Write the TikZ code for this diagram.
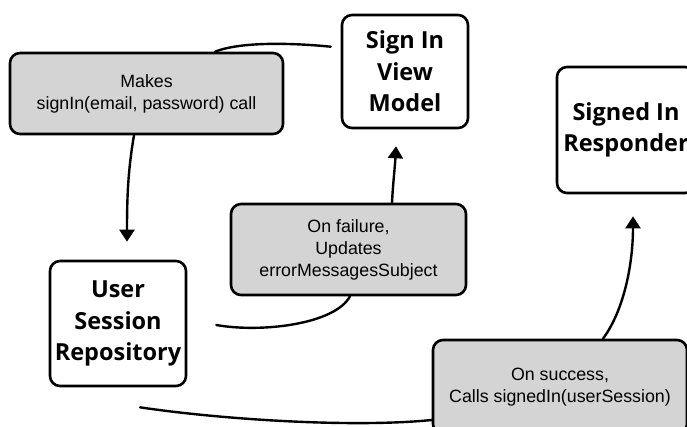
\documentclass[tikz,border=0pt]{standalone}
\usepackage{fontspec}
\setmainfont{Liberation Sans}
\newfontfamily\labelfont{Open Sans}
\usetikzlibrary{arrows.meta}
\definecolor{boxgray}{HTML}{D4D4D4}
\begin{document}
\begin{tikzpicture}[x=1pt,y=-1pt,
 box/.style={draw=black, line width=2.6pt, rounded corners=10pt, align=center, inner sep=0pt},
 entity/.style={box, fill=white, font=\labelfont\bfseries\fontsize{23.5}{31.5}\selectfont},
 action/.style={box, fill=boxgray, font=\fontsize{17.8}{22}\selectfont},
 conn/.style={line width=2.4pt, line cap=round},
 tip/.style={-{Triangle[width=15pt,length=12pt]}}
]
\useasboundingbox (0,0) rectangle (687,426);
\clip (0,0) rectangle (687,426);
\node[action, minimum width=273pt, minimum height=81pt] (mk) at (146.5,93.5) {Makes\\signIn(email, password) call};
\node[entity, minimum width=126pt, minimum height=113pt] (sivm) at (405,71.5) {Sign In\\View\\Model};
\node[entity, minimum width=138pt, minimum height=126pt] (res) at (626,130) {Signed In\\Responder};
\node[action, minimum width=235pt, minimum height=91pt] (fail) at (348.5,249.5) {On failure,\\Updates\\errorMessagesSubject};
\node[entity, minimum width=136pt, minimum height=125pt] (usr) at (118,323.5) {User\\Session\\Repository};
\node[action, minimum width=254pt, minimum height=94pt] (succ) at (560,387) {On success,\\Calls signedIn(userSession)};

\coordinate (vmin) at ([xshift=-10pt,yshift=-33pt]sivm.north west);
\coordinate (usrtip) at ([xshift=9pt,yshift=18pt]usr.north);
\coordinate (vmtip) at ([xshift=-9pt,yshift=-17pt]sivm.south);
\coordinate (usrout) at ([xshift=29pt,yshift=-1.5pt]usr.east);
\coordinate (usrlow) at ([xshift=22pt,yshift=-20pt]usr.south);
\coordinate (restip) at ([xshift=7pt,yshift=-22pt]res.south);

\draw[conn] ([xshift=68.5pt]mk.north) .. controls +(25,-10) and +(-40,-4) .. (vmin);
\draw[conn,tip] ([xshift=-12.5pt]mk.south) .. controls +(-6,35) and +(0,-45) .. (usrtip);
\draw[conn,tip] ([xshift=43.5pt]fail.north) .. controls +(1,-20) and +(-1,20) .. (vmtip);
\draw[conn] (usrout) .. controls +(45,8) and +(-15,28) .. ([xshift=1.5pt]fail.south);
\draw[conn] (usrlow) .. controls +(80,12) and +(-80,8) .. ([yshift=-33pt]succ.west);
\draw[conn,tip] ([xshift=43pt]succ.north) .. controls +(22,-30) and +(0,45) .. (restip);
\end{tikzpicture}
\end{document}
